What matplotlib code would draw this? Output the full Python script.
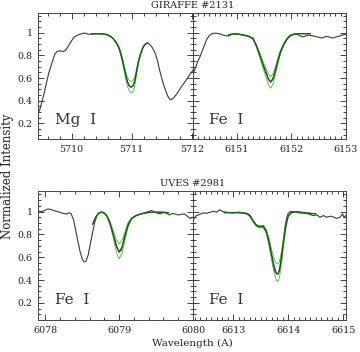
import matplotlib
matplotlib.use("Agg")
import matplotlib.pyplot as plt
from matplotlib.ticker import MultipleLocator

plt.rcParams['font.family'] = ['DejaVu Serif']

# ---------------- data ----------------
# Panel 1: GIRAFFE #2131, Mg I
mg_obs_wl = [5709.44, 5709.47, 5709.50, 5709.54, 5709.58, 5709.62, 5709.67, 5709.72, 5709.76, 5709.80,
             5709.86, 5709.90, 5709.94, 5709.99, 5710.04, 5710.11, 5710.19, 5710.24, 5710.28, 5710.33,
             5710.40, 5710.47, 5710.53, 5710.58, 5710.64, 5710.69, 5710.74, 5710.78, 5710.81, 5710.84,
             5710.87, 5710.90, 5710.93, 5710.96, 5710.99, 5711.02, 5711.05, 5711.08, 5711.11, 5711.14,
             5711.18, 5711.21, 5711.25, 5711.29, 5711.34, 5711.39, 5711.43, 5711.47, 5711.52, 5711.56,
             5711.60, 5711.64, 5711.69, 5711.75, 5711.81, 5711.87, 5711.93, 5711.98, 5712.02]
mg_obs_fl = [0.29, 0.32, 0.38, 0.46, 0.555, 0.645, 0.73, 0.81, 0.835, 0.84,
             0.833, 0.845, 0.877, 0.92, 0.96, 0.98, 0.994, 0.995, 0.983, 0.99,
             0.99, 0.99, 0.988, 0.985, 0.97, 0.95, 0.915, 0.877, 0.83, 0.77,
             0.70, 0.625, 0.565, 0.53, 0.52, 0.53, 0.57, 0.657, 0.74, 0.80,
             0.86, 0.89, 0.907, 0.90, 0.87, 0.82, 0.75, 0.657, 0.56, 0.496,
             0.44, 0.408, 0.42, 0.46, 0.51, 0.555, 0.60, 0.64, 0.67]
mg_syn_wl = [5710.33, 5710.40, 5710.47, 5710.53, 5710.58, 5710.64, 5710.69, 5710.74, 5710.78, 5710.81,
             5710.84, 5710.87, 5710.90, 5710.93, 5710.96, 5710.99, 5711.02, 5711.05, 5711.08, 5711.11,
             5711.14, 5711.18, 5711.21, 5711.25, 5711.27]
mg_syn_best = [0.985, 0.99, 0.99, 0.988, 0.982, 0.968, 0.948, 0.913, 0.875, 0.83,
               0.77, 0.70, 0.625, 0.565, 0.53, 0.52, 0.53, 0.57, 0.655, 0.74,
               0.80, 0.86, 0.89, 0.905, 0.907]
mg_syn_high = [0.985, 0.99, 0.99, 0.988, 0.982, 0.968, 0.95, 0.918, 0.883, 0.842,
               0.787, 0.72, 0.655, 0.605, 0.578, 0.57, 0.578, 0.61, 0.68, 0.755,
               0.81, 0.865, 0.893, 0.906, 0.907]
mg_syn_low = [0.985, 0.99, 0.99, 0.988, 0.98, 0.966, 0.945, 0.908, 0.865, 0.815,
              0.75, 0.675, 0.59, 0.525, 0.485, 0.47, 0.48, 0.53, 0.625, 0.72,
              0.79, 0.855, 0.888, 0.904, 0.907]

# Panel 2: GIRAFFE #2131, Fe I 6151
fe1_obs_wl = [6150.20, 6150.25, 6150.29, 6150.33, 6150.37, 6150.41, 6150.45, 6150.50, 6150.55, 6150.62,
              6150.68, 6150.74, 6150.80, 6150.85, 6150.92, 6151.00, 6151.06, 6151.12, 6151.18, 6151.24,
              6151.30, 6151.36, 6151.42, 6151.48, 6151.54, 6151.58, 6151.62, 6151.66, 6151.70, 6151.75,
              6151.80, 6151.86, 6151.92, 6151.98, 6152.05, 6152.11, 6152.16, 6152.21, 6152.26, 6152.30,
              6152.36, 6152.42, 6152.47, 6152.51, 6152.57, 6152.63, 6152.69, 6152.75, 6152.81, 6152.87,
              6152.93, 6152.99]
fe1_obs_fl = [0.63, 0.70, 0.75, 0.79, 0.84, 0.89, 0.94, 0.975, 0.992, 0.995,
              0.99, 0.98, 0.972, 0.97, 0.987, 0.986, 0.982, 0.976, 0.972, 0.962,
              0.95, 0.88, 0.80, 0.72, 0.645, 0.59, 0.564, 0.59, 0.65, 0.74,
              0.82, 0.89, 0.94, 0.972, 0.985, 0.983, 0.972, 0.962, 0.97, 0.977,
              0.974, 0.968, 0.962, 0.958, 0.952, 0.967, 0.962, 0.952, 0.96, 0.968,
              0.978, 0.985]
fe1_syn_wl = [6150.85, 6150.92, 6151.00, 6151.08, 6151.16, 6151.23, 6151.30, 6151.36, 6151.42, 6151.48,
              6151.54, 6151.58, 6151.62, 6151.66, 6151.70, 6151.75, 6151.80, 6151.86, 6151.92, 6151.98,
              6152.05, 6152.12, 6152.20, 6152.28, 6152.35]
fe1_syn_best = [0.98, 0.987, 0.988, 0.983, 0.975, 0.965, 0.945, 0.885, 0.805, 0.72,
                0.64, 0.59, 0.565, 0.59, 0.65, 0.745, 0.83, 0.895, 0.945, 0.975,
                0.987, 0.99, 0.99, 0.99, 0.99]
fe1_syn_high = [0.98, 0.988, 0.99, 0.985, 0.978, 0.968, 0.95, 0.895, 0.825, 0.75,
                0.68, 0.635, 0.613, 0.635, 0.685, 0.77, 0.845, 0.905, 0.95, 0.978,
                0.988, 0.99, 0.99, 0.99, 0.99]
fe1_syn_low = [0.98, 0.987, 0.988, 0.982, 0.973, 0.962, 0.94, 0.875, 0.785, 0.69,
               0.60, 0.54, 0.511, 0.54, 0.615, 0.72, 0.815, 0.888, 0.942, 0.973,
               0.986, 0.99, 0.99, 0.99, 0.99]

# Panel 3: UVES #2981, Fe I 6079
fe2_obs_wl = [6077.90, 6077.94, 6077.98, 6078.02, 6078.05, 6078.09, 6078.13, 6078.17, 6078.21, 6078.25,
              6078.29, 6078.32, 6078.35, 6078.38, 6078.41, 6078.44, 6078.47, 6078.50, 6078.52, 6078.55,
              6078.58, 6078.61, 6078.64, 6078.67, 6078.70, 6078.74, 6078.78, 6078.82, 6078.86, 6078.90,
              6078.94, 6078.97, 6079.00, 6079.03, 6079.06, 6079.09, 6079.12, 6079.16, 6079.20, 6079.25,
              6079.30, 6079.35, 6079.40, 6079.44, 6079.48, 6079.52, 6079.56, 6079.60, 6079.64, 6079.68,
              6079.72, 6079.76, 6079.80, 6079.84, 6079.88, 6079.92, 6079.96, 6080.00]
fe2_obs_fl = [1.005, 1.0, 1.005, 1.02, 1.022, 1.015, 1.005, 1.0, 0.99, 0.982,
              0.978, 0.99, 0.98, 0.93, 0.84, 0.74, 0.65, 0.585, 0.56, 0.565,
              0.62, 0.72, 0.818, 0.91, 0.965, 0.994, 0.995, 0.975, 0.92, 0.84,
              0.75, 0.685, 0.645, 0.665, 0.74, 0.83, 0.895, 0.935, 0.955, 0.97,
              0.98, 0.99, 1.0, 1.01, 0.995, 0.985, 0.98, 0.992, 0.985, 0.97,
              0.983, 0.978, 0.97, 0.975, 0.98, 0.96, 0.94, 0.95]
fe2_syn_wl = [6078.64, 6078.68, 6078.72, 6078.76, 6078.80, 6078.84, 6078.88, 6078.92, 6078.96, 6079.00,
              6079.04, 6079.08, 6079.12, 6079.17, 6079.23, 6079.30, 6079.38, 6079.46, 6079.55, 6079.62,
              6079.67]
fe2_syn_best = [0.89, 0.95, 0.985, 0.995, 0.985, 0.955, 0.89, 0.80, 0.70, 0.645,
                0.69, 0.79, 0.88, 0.94, 0.965, 0.98, 0.99, 0.995, 0.995, 0.993, 0.99]
fe2_syn_high = [0.89, 0.95, 0.985, 0.996, 0.987, 0.96, 0.905, 0.83, 0.755, 0.716,
                0.75, 0.82, 0.895, 0.945, 0.967, 0.98, 0.99, 0.995, 0.995, 0.993, 0.99]
fe2_syn_low = [0.885, 0.948, 0.984, 0.994, 0.983, 0.95, 0.875, 0.77, 0.65, 0.585,
               0.64, 0.755, 0.865, 0.935, 0.962, 0.978, 0.99, 0.995, 0.995, 0.993, 0.99]

# Panel 4: UVES #2981, Fe I 6613
fe3_obs_wl = [6612.27, 6612.30, 6612.33, 6612.39, 6612.45, 6612.52, 6612.58, 6612.64, 6612.70, 6612.76,
              6612.81, 6612.88, 6612.94, 6613.00, 6613.06, 6613.12, 6613.17, 6613.21, 6613.26, 6613.30,
              6613.33, 6613.36, 6613.40, 6613.43, 6613.46, 6613.49, 6613.52, 6613.55, 6613.58, 6613.61,
              6613.64, 6613.67, 6613.70, 6613.73, 6613.76, 6613.79, 6613.82, 6613.85, 6613.88, 6613.91,
              6613.94, 6613.97, 6614.00, 6614.04, 6614.08, 6614.12, 6614.17, 6614.21, 6614.26, 6614.30,
              6614.35, 6614.39, 6614.45, 6614.52, 6614.58, 6614.64, 6614.70, 6614.75, 6614.79, 6614.84,
              6614.88, 6614.94, 6614.99, 6615.01, 6615.05]
fe3_obs_fl = [0.96, 0.94, 0.965, 0.974, 0.988, 0.985, 0.994, 1.003, 0.994, 1.015,
              1.0, 0.994, 0.99, 0.988, 0.993, 0.994, 0.99, 0.988, 0.983, 0.971,
              0.95, 0.92, 0.89, 0.877, 0.87, 0.868, 0.872, 0.877, 0.85, 0.804,
              0.74, 0.672, 0.60, 0.525, 0.475, 0.452, 0.455, 0.51, 0.62, 0.74,
              0.86, 0.94, 0.985, 1.0, 1.0, 0.998, 0.99, 0.988, 0.986, 0.985,
              0.98, 0.976, 0.965, 0.971, 0.95, 0.965, 0.95, 0.957, 0.959, 0.948,
              0.94, 0.95, 0.98, 0.95, 0.965]
fe3_syn_wl = [6612.84, 6612.92, 6613.00, 6613.08, 6613.16, 6613.24, 6613.30, 6613.36, 6613.42, 6613.48,
              6613.54, 6613.60, 6613.65, 6613.70, 6613.74, 6613.78, 6613.81, 6613.84, 6613.88, 6613.92,
              6613.96, 6614.00, 6614.06, 6614.14, 6614.22, 6614.30, 6614.40, 6614.50]
fe3_syn_best = [0.99, 0.99, 0.99, 0.99, 0.988, 0.982, 0.965, 0.92, 0.88, 0.865,
                0.87, 0.83, 0.74, 0.62, 0.53, 0.465, 0.452, 0.48, 0.60, 0.75,
                0.88, 0.96, 0.99, 0.998, 0.995, 0.99, 0.985, 0.98]
fe3_syn_high = [0.99, 0.99, 0.99, 0.99, 0.988, 0.983, 0.968, 0.925, 0.888, 0.875,
                0.88, 0.845, 0.77, 0.665, 0.59, 0.548, 0.54, 0.56, 0.655, 0.785,
                0.895, 0.965, 0.99, 0.998, 0.995, 0.99, 0.985, 0.98]
fe3_syn_low = [0.99, 0.99, 0.99, 0.99, 0.987, 0.98, 0.96, 0.912, 0.87, 0.855,
               0.86, 0.815, 0.71, 0.575, 0.47, 0.405, 0.385, 0.42, 0.55, 0.72,
               0.865, 0.955, 0.99, 0.998, 0.995, 0.99, 0.985, 0.98]

panel_labels = ["Mg  I", "Fe  I", "Fe  I", "Fe  I"]
row_titles = ["GIRAFFE #2131", "UVES #2981"]
xlabel = "Wavelength (A)"
ylabel = "Normalized Intensity"
ytick_vals = [0.2, 0.4, 0.6, 0.8, 1.0]
ytick_labels = ["0.2", "0.4", "0.6", "0.8", "1"]
xticks = [[5710, 5711, 5712], [6151, 6152, 6153], [6078, 6079, 6080], [6613, 6614, 6615]]

# ---------------- figure ----------------
W, H = 360, 352
fig = plt.figure(figsize=(W / 100, H / 100), dpi=100)

def px_axes(x0, y0, x1, y1):
    return fig.add_axes([x0 / W, 1 - y1 / H, (x1 - x0) / W, (y1 - y0) / H])

ax1 = px_axes(38, 13.3, 193, 139.3)
ax2 = px_axes(193, 13.3, 346, 139.3)
ax3 = px_axes(38, 191, 193, 320)
ax4 = px_axes(193, 191, 346, 320)

panels = [
    (ax1, mg_obs_wl, mg_obs_fl, mg_syn_wl, mg_syn_best, mg_syn_high, mg_syn_low, (5709.44, 5712.02), (0.06, 1.17), 0.2),
    (ax2, fe1_obs_wl, fe1_obs_fl, fe1_syn_wl, fe1_syn_best, fe1_syn_high, fe1_syn_low, (6150.20, 6153.00), (0.06, 1.17), 0.1),
    (ax3, fe2_obs_wl, fe2_obs_fl, fe2_syn_wl, fe2_syn_best, fe2_syn_high, fe2_syn_low, (6077.90, 6080.00), (0.05, 1.18), 0.2),
    (ax4, fe3_obs_wl, fe3_obs_fl, fe3_syn_wl, fe3_syn_best, fe3_syn_high, fe3_syn_low, (6612.27, 6615.05), (0.05, 1.18), 0.1),
]

obs_color = '#3a3a3a'
best_color = '#0f5f0f'
bound_color = '#4fae3c'

for i, (ax, owl, ofl, swl, sb, sh, sl, xl, yl, xminor) in enumerate(panels):
    ax.plot(owl, ofl, color=obs_color, lw=0.8, zorder=2)
    ax.plot(swl, sh, color=bound_color, lw=0.6, zorder=3)
    ax.plot(swl, sl, color=bound_color, lw=0.6, zorder=3)
    ax.plot(swl, sb, color=best_color, lw=0.9, zorder=4)
    ax.set_xlim(*xl)
    ax.set_ylim(*yl)
    ax.set_xticks(xticks[i])
    ax.set_xticklabels([str(t) for t in xticks[i]])
    ax.xaxis.set_minor_locator(MultipleLocator(xminor))
    ax.set_yticks(ytick_vals)
    ax.yaxis.set_minor_locator(MultipleLocator(0.05))
    if i % 2 == 0:
        ax.set_yticklabels(ytick_labels)
    else:
        ax.set_yticklabels([])
    ax.tick_params(which='both', direction='in', top=True, right=True, width=0.6,
                   labelsize=6.8, colors='#222222', pad=4)
    ax.tick_params(which='major', length=4.5)
    ax.tick_params(which='minor', length=2.2)
    for s in ax.spines.values():
        s.set_linewidth(0.7)
        s.set_color('#444444')
    lx = 0.11 if i % 2 == 0 else 0.105
    ly = 0.12 if i < 2 else 0.126
    ax.text(lx, ly, panel_labels[i], transform=ax.transAxes, fontsize=11,
            va='baseline', ha='left', color='#333333')

fig.text(193 / W, 1 - 5.5 / H, row_titles[0], ha='center', va='center', fontsize=7, color='#222222')
fig.text(193 / W, 1 - 183.5 / H, row_titles[1], ha='center', va='center', fontsize=7, color='#222222')
fig.text(192 / W, 1 - 343 / H, xlabel, ha='center', va='center', fontsize=7.5, color='#222222')
fig.text(8 / W, 0.5, ylabel, ha='center', va='center', rotation=90, fontsize=8.5, color='#222222')

fig.savefig('out.png', dpi=100)
